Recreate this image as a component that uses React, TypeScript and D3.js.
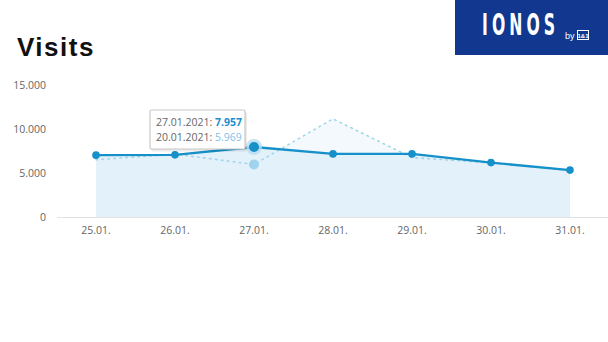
import React from "react";
import * as d3 from "d3";

const categories = ["25.01.", "26.01.", "27.01.", "28.01.", "29.01.", "30.01.", "31.01."];
const currentValues = [7030, 7060, 7957, 7170, 7170, 6180, 5330];
const previousValues = [6500, 7150, 5969, 11150, 6750, 6150, 5300];
const yTicks = [0, 5000, 10000, 15000];
const highlightIndex = 2;
const currentLabel = "27.01.2021";
const previousLabel = "20.01.2021";

const W = 608;
const H = 342;

const fmt = (v: number) => d3.format(",")(v).replace(/,/g, ".");

export default function App() {
  const x = d3.scalePoint<string>().domain(categories).range([96, 570]);
  const y = d3.scaleLinear().domain([0, 15000]).range([217, 85]);

  const line = d3
    .line<number>()
    .x((_, i) => x(categories[i]) as number)
    .y((d) => y(d));
  const area = d3
    .area<number>()
    .x((_, i) => x(categories[i]) as number)
    .y0(y(0))
    .y1((d) => y(d));

  const hx = x(categories[highlightIndex]) as number;
  const lineColor = "#1590c8";

  return (
    <svg
      width={W}
      height={H}
      style={{ position: "absolute", left: 0, top: 0, background: "#fff" }}
      fontFamily="'Open Sans', sans-serif"
    >
      <rect width={W} height={H} fill="#fff" />
      {/* title */}
      <text
        x={17}
        y={56}
        fontFamily="'Liberation Sans', Arial, sans-serif"
        fontWeight="bold"
        fontSize={26}
        letterSpacing={1.5}
        fill="#111"
      >
        Visits
      </text>

      {/* logo */}
      <rect x={455} y={0} width={153} height={55} fill="#11388e" />
      <text
        transform="translate(482,35) scale(0.58,1)"
        fill="#fff"
        fontFamily="'DejaVu Sans Condensed', 'Liberation Sans Narrow', sans-serif"
        fontWeight="bold"
        fontSize={30}
        letterSpacing={7}
      >
        IONOS
      </text>
      <text x={565} y={39} fill="#fff" fontSize={9} fontFamily="'Liberation Sans', sans-serif">
        by
      </text>
      <rect x={577.5} y={30.5} width={11} height={9} fill="none" stroke="#fff" strokeWidth={1} />
      <text x={583} y={38} fill="#fff" fontSize={6} fontWeight="bold" textAnchor="middle" fontFamily="'Liberation Sans', sans-serif">
        1&amp;1
      </text>

      {/* y ticks */}
      {yTicks.map((t) => (
        <text key={t} x={46} y={y(t) + 4} textAnchor="end" fontSize={10.5} fill="#666">
          {fmt(t)}
        </text>
      ))}

      {/* previous area */}
      <path d={area(previousValues) || ""} fill="#f3f9fc" />
      {/* current area */}
      <path d={area(currentValues) || ""} fill="#e3f1fa" />

      {/* baseline */}
      <line x1={57} x2={W} y1={y(0) + 0.5} y2={y(0) + 0.5} stroke="#e2e2e2" strokeWidth={1} />

      {/* x labels */}
      {categories.map((c) => (
        <text key={c} x={x(c) as number} y={234} textAnchor="middle" fontSize={10.5} fill="#666">
          {c}
        </text>
      ))}

      {/* previous line dotted */}
      <path
        d={line(previousValues) || ""}
        fill="none"
        stroke="#9fd3ee"
        strokeWidth={1.6}
        strokeDasharray="1.5 4.5"
        strokeLinecap="round"
      />
      <circle cx={hx} cy={y(previousValues[highlightIndex])} r={5} fill="#9fd3ee" />

      {/* current line */}
      <path d={line(currentValues) || ""} fill="none" stroke={lineColor} strokeWidth={2.4} />
      <circle cx={hx} cy={y(currentValues[highlightIndex])} r={8} fill="#b8ddf1" opacity={0.8} />
      {currentValues.map((v, i) => (
        <circle
          key={i}
          cx={x(categories[i]) as number}
          cy={y(v)}
          r={i === highlightIndex ? 5 : 3.8}
          fill={lineColor}
        />
      ))}

      {/* tooltip */}
      <g transform="translate(150,110)">
        <rect x={1} y={1.5} width={96} height={40} fill="#000" opacity={0.08} rx={2} />
        <rect x={0} y={0} width={95} height={39} fill="#fff" stroke="#c8c8c8" strokeWidth={1.2} rx={1.5} />
        <text x={6} y={16} fontSize={10.5} fill="#666">
          {currentLabel}:{" "}
          <tspan fill="#1a8fd0" fontWeight="bold">
            {fmt(currentValues[highlightIndex])}
          </tspan>
        </text>
        <text x={6} y={31} fontSize={10.5} fill="#666">
          {previousLabel}:{" "}
          <tspan fill="#7fc2ec">{fmt(previousValues[highlightIndex])}</tspan>
        </text>
      </g>
    </svg>
  );
}
